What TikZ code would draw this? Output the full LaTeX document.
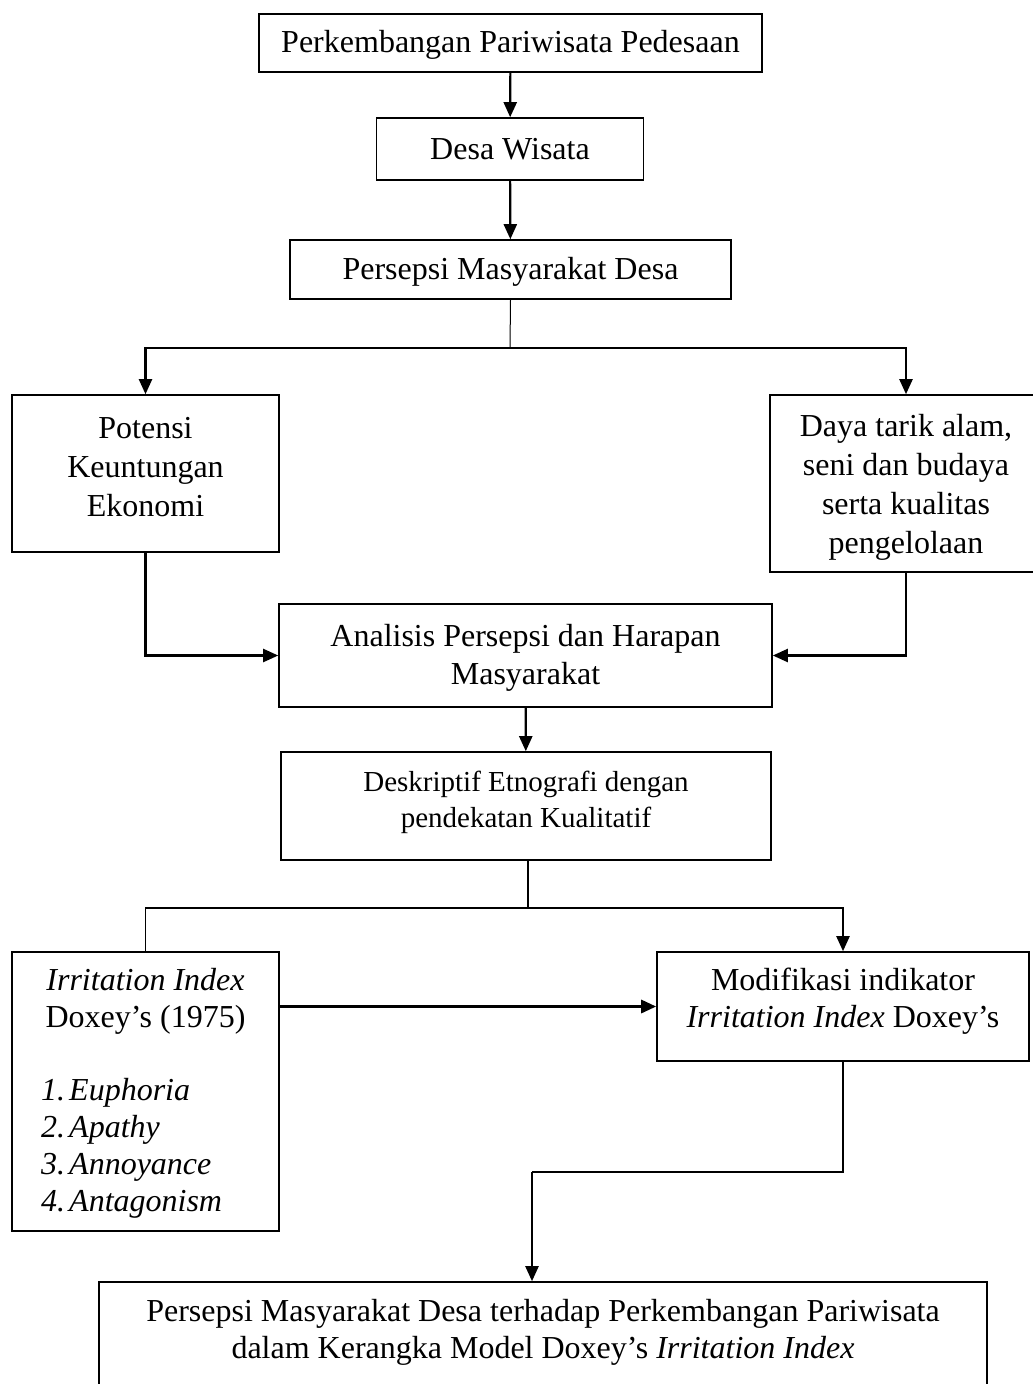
\documentclass[tikz,border=0pt]{standalone}
\usepackage{fontspec}
\setmainfont{Liberation Serif}
\usetikzlibrary{arrows.meta}
\begin{document}
\begin{tikzpicture}[x=1pt,y=-1pt,
  box/.style={draw, line width=1.6pt, rectangle, inner sep=0pt, align=center,
    font=\fontsize{32}{38}\selectfont},
  txt/.style={inner sep=0pt, font=\fontsize{32}{37}\selectfont},
  conn/.style={line width=2.2pt},
  thin/.style={line width=1pt},
  arr/.style={conn, -{Triangle[length=15pt,width=13pt]}}]
\useasboundingbox (0,0) rectangle (1033,1384);
\node[box, minimum width=503pt, minimum height=58pt] (b1) at (510.5,43) {};
\node[txt] (t1) at (510.5,45) {Perkembangan Pariwisata Pedesaan};
\node[box, minimum width=267pt, minimum height=62pt] (b2) at (510,149) {Desa Wisata};
\node[box, minimum width=441pt, minimum height=59pt] (b3) at (510.5,269.5) {};
\node[txt] (t3) at (510.5,271.5) {Persepsi Masyarakat Desa};
\node[box, minimum width=267pt, minimum height=157pt] (b4) at (145.5,473.5) {};
\node[txt, align=center, font=\fontsize{32}{39}\selectfont] (t4) at (145.5,467) {Potensi\\Keuntungan\\Ekonomi};
\node[box, minimum width=272pt, minimum height=177pt] (b5) at (906,483.5) {};
\node[txt, align=center, font=\fontsize{32}{39}\selectfont] (t5) at (906,487) {Daya tarik alam,\\seni dan budaya\\serta kualitas\\pengelolaan};
\node[box, minimum width=493pt, minimum height=103pt] (b6) at (525.5,655.5) {};
\node[txt, align=center, font=\fontsize{32}{38}\selectfont] (t6) at (525.5,658) {Analisis Persepsi dan Harapan\\Masyarakat};
\node[box, minimum width=490pt, minimum height=108pt] (b7) at (526,806) {};
\node[txt, align=center, font=\fontsize{29}{36}\selectfont] (t7) at (526,802) {Deskriptif Etnografi dengan\\pendekatan Kualitatif};
\node[box, minimum width=267pt, minimum height=279pt] (b8) at (145.5,1091.5) {};
\node[txt, align=center] (t8a) at (145.5,1001.5) {\textit{Irritation Index}\\Doxey’s (1975)};
\node[txt, align=left, anchor=west, font=\fontsize{32}{37}\selectfont\itshape] (t8b) at (41,1148) {%
  \makebox[28pt][l]{1.}Euphoria\\
  \makebox[28pt][l]{2.}Apathy\\
  \makebox[28pt][l]{3.}Annoyance\\
  \makebox[28pt][l]{4.}Antagonism};
\node[box, minimum width=372pt, minimum height=109pt] (b9) at (843,1006.5) {};
\node[txt, align=center] (t9) at (843,1001.5) {Modifikasi indikator\\\textit{Irritation Index} Doxey’s};
\node[box, minimum width=888pt, minimum height=120pt] (b10) at (543,1342) {};
\node[txt, align=center] (t10) at (543,1332) {Persepsi Masyarakat Desa terhadap Perkembangan Pariwisata\\dalam Kerangka Model Doxey’s \textit{Irritation Index}};
% connectors
\coordinate (s1) at (510,348);
\coordinate (s2) at (528,908);
\coordinate (k) at (532,1172);
\draw[arr] (b1) -- (b2);
\draw[arr] (b2) -- (b3);
\draw[thin] (b3.south) -- (s1);
\draw[arr] (s1) -| (b4.north);
\draw[arr] (s1) -| (b5.north);
\draw[arr] (b4.south) |- (b6.west);
\draw[arr] (b5.south) |- (b6.east);
\draw[arr] (b6) -- (b7);
\draw[line width=1.6pt] (s2 |- b7.south) -- (s2);
\draw[line width=1.6pt] (s2) -| (b8.north);
\draw[arr] (s2) -| (b9.north);
\draw[arr, line width=3pt] (b8.east |- b9.west) -- (b9.west);
\draw[conn] (b9.south) |- (k);
\draw[arr] (k) -- (k |- b10.north);
\end{tikzpicture}
\end{document}
